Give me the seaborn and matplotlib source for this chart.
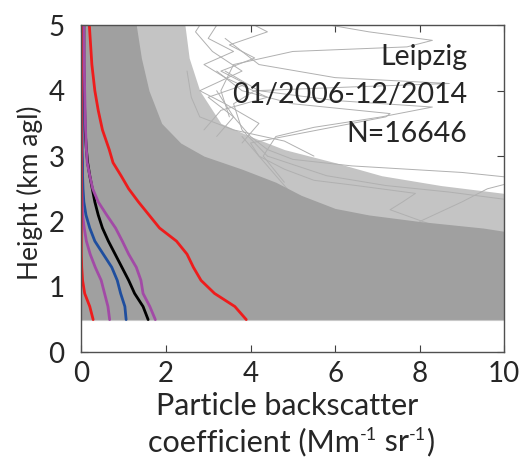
import numpy as np
import pandas as pd
import matplotlib
matplotlib.use("Agg")
import matplotlib.pyplot as plt
import seaborn as sns

# ---------------- data ----------------
heights = [0.5, 0.7, 0.9, 1.1, 1.3, 1.5, 1.7, 1.9, 2.1, 2.3, 2.5, 2.7, 2.9,
           3.1, 3.4, 3.7, 4.0, 4.4, 5.0]
p05 = [0.28, 0.20, 0.08, 0.03, 0.01, 0.00, 0.00, 0.00, 0.00, 0.00, 0.00, 0.00,
       0.00, 0.00, 0.00, 0.00, 0.00, 0.00, 0.00]
p25 = [0.67, 0.63, 0.55, 0.47, 0.33, 0.21, 0.12, 0.07, 0.03, 0.02, 0.01, 0.01,
       0.01, 0.01, 0.01, 0.01, 0.01, 0.01, 0.01]
p50 = [1.06, 1.03, 0.93, 0.85, 0.72, 0.52, 0.32, 0.20, 0.11, 0.06, 0.04, 0.03,
       0.03, 0.02, 0.02, 0.02, 0.02, 0.02, 0.02]
mean = [1.58, 1.46, 1.26, 1.12, 0.96, 0.80, 0.64, 0.50, 0.40, 0.32, 0.26, 0.20,
        0.15, 0.12, 0.09, 0.08, 0.07, 0.06, 0.06]
p75 = [1.75, 1.62, 1.46, 1.41, 1.30, 1.12, 0.97, 0.81, 0.60, 0.40, 0.27, 0.20,
       0.14, 0.12, 0.10, 0.09, 0.08, 0.07, 0.06]
p95 = [3.90, 3.63, 3.15, 2.83, 2.65, 2.50, 2.25, 1.85, 1.60, 1.35, 1.12, 0.94,
       0.75, 0.66, 0.50, 0.40, 0.32, 0.25, 0.19]

# envelope of the dense mass of individual profiles
core_h = [0.5, 1.85, 1.9, 2.0, 2.1, 2.2, 2.4, 2.6, 2.8, 3.0, 3.2, 3.5, 4.0, 4.5, 5.0]
core_x = [10.0, 10.0, 9.5, 8.0, 6.8, 6.0, 5.2, 4.6, 3.8, 2.9, 2.35, 1.9, 1.6, 1.42, 1.3]
fringe_h = [0.5, 2.43, 2.55, 2.7, 2.9, 3.1, 3.3, 3.5, 4.0, 4.5, 5.0]
fringe_x = [10.0, 10.0, 8.5, 7.1, 6.0, 4.8, 4.0, 3.3, 2.8, 2.55, 2.45]

# a few outlying individual profiles
o1_h = [2.0, 2.3, 2.5, 2.65, 2.75, 2.85, 2.95, 3.1, 3.3, 3.6, 4.0]
o1_x = [8.0, 9.0, 9.6, 10.5, 9.0, 6.4, 5.0, 4.4, 4.0, 3.6, 3.2]
o2_h = [2.4, 2.7, 3.0, 3.2, 3.4, 3.6, 3.65, 3.8, 4.0, 4.3]
o2_x = [5.0, 4.6, 4.2, 4.0, 5.6, 7.2, 7.3, 5.0, 3.8, 3.2]
o3_h = [2.6, 3.0, 3.3, 3.44, 3.6, 3.75, 3.85, 4.0, 4.3]
o3_x = [4.8, 4.3, 4.6, 5.5, 7.1, 8.3, 6.0, 4.2, 3.4]
o4_h = [3.0, 3.4, 3.8, 4.0, 4.06, 4.11, 4.2, 4.4, 4.8]
o4_x = [4.4, 3.8, 3.6, 4.1, 6.5, 8.7, 6.0, 4.2, 3.4]
o5_h = [3.6, 4.0, 4.4, 4.6, 4.67, 4.77, 4.9, 5.0, 5.1]
o5_x = [3.5, 3.3, 3.6, 5.0, 7.7, 8.3, 6.8, 5.9, 5.5]
o6_h = [1.9, 2.18, 2.3, 2.43, 2.55, 2.63, 2.8, 3.0, 3.3]
o6_x = [8.5, 7.3, 7.6, 7.9, 6.5, 5.5, 4.8, 4.2, 3.8]
o7_h = [2.1, 2.34, 2.45, 2.55, 2.7, 3.0]
o7_x = [10.5, 10.0, 8.7, 7.2, 5.8, 4.4]
o8_h = [3.0, 3.23, 3.4, 3.6, 3.9, 4.3]
o8_x = [5.5, 4.8, 3.6, 2.8, 2.6, 2.5]
o9_h = [3.3, 3.6, 3.9, 4.1, 4.3, 4.5, 4.7, 4.9, 5.1]
o9_x = [3.2, 3.6, 3.0, 3.9, 3.3, 4.1, 3.5, 4.4, 3.8]
o10_h = [3.4, 3.7, 3.9, 4.2, 4.4, 4.6, 4.8, 5.1]
o10_x = [2.9, 3.3, 4.4, 3.4, 2.9, 3.6, 3.0, 3.3]
o11_h = [3.2, 3.5, 3.8, 4.0, 4.3, 4.6, 4.9, 5.1]
o11_x = [3.8, 4.2, 3.4, 2.8, 3.8, 3.1, 2.7, 2.9]
outliers = [(o1_x, o1_h), (o2_x, o2_h), (o3_x, o3_h), (o4_x, o4_h),
            (o5_x, o5_h), (o6_x, o6_h), (o7_x, o7_h), (o8_x, o8_h),
            (o9_x, o9_h), (o10_x, o10_h), (o11_x, o11_h)]

x_ticks = [0, 2, 4, 6, 8, 10]
y_ticks = [0, 1, 2, 3, 4, 5]
station_lines = ["Leipzig", "01/2006-12/2014", "N=16646"]
xlabel_line1 = "Particle backscatter"
# second label line as (text, is_superscript) pieces
xlabel_line2 = [("coefficient (Mm", False), ("-1", True), (" sr", False),
                ("-1", True), (")", False)]

# ---------------- styling ----------------
sns.set_style("ticks")
plt.rcParams["font.family"] = ["Lato", "DejaVu Sans"]

W, H = 522, 459
fig = plt.figure(figsize=(W / 100, H / 100), dpi=100)
ax = fig.add_axes([81.3 / W, 1 - 352.3 / H, (504.3 - 81.3) / W, (352.3 - 25.3) / H])

grey = "#a0a0a0"
ax.fill_betweenx(fringe_h, 0, fringe_x, color="#c4c4c4", lw=0, zorder=1)
for px, ph in outliers:
    sns.lineplot(x=px, y=ph, orient="y", sort=False, estimator=None,
                 color="#b0b0b0", lw=0.7, ax=ax, zorder=1.5)
ax.fill_betweenx(core_h, 0, core_x, color=grey, lw=0, zorder=2)
ax.axhline(0.5, color="#c8c8c8", lw=0.8, zorder=2.1)

stats = [(mean, "black"), (p50, "#1f4e9e"), (p25, "#a24aa6"), (p75, "#a24aa6"),
         (p05, "#ee1c1c"), (p95, "#ee1c1c")]
for vals, col in stats:
    df = pd.DataFrame({"beta": vals, "h": heights})
    sns.lineplot(data=df, x="beta", y="h", orient="y", sort=False, estimator=None,
                 color=col, lw=2.0, ax=ax, zorder=3)

ax.set_xlim(0, 10)
ax.set_ylim(0, 5)
ax.set_xticks(x_ticks)
ax.set_yticks(y_ticks)
ax.tick_params(direction="in", length=5, width=0.8, top=True, right=True,
               labelsize=20, color="#404040")
ax.tick_params(axis="y", pad=12)
ax.tick_params(axis="x", pad=6)
for s in ax.spines.values():
    s.set_color("#505050")
    s.set_linewidth(1.0)
    s.set_zorder(5)
ax.set_xlabel("")
ax.set_ylabel("")

fig.text(287 / W, 1 - 415 / H, xlabel_line1, ha="center",
         va="baseline", fontsize=22)

# second x-label line with small raised "-1" superscripts
renderer = fig.canvas.get_renderer()
texts = []
for piece, sup in xlabel_line2:
    t = fig.text(0, 0, piece, fontsize=13 if sup else 22, ha="left",
                 va="baseline")
    texts.append((t, sup))
widths = [t.get_window_extent(renderer).width for t, _ in texts]
total = sum(widths)
x0 = 291 - total / 2
base = 451
for (t, sup), w in zip(texts, widths):
    yb = base - (11 if sup else 0)
    t.set_position((x0 / W, 1 - yb / H))
    x0 += w

fig.text(30 / W, 1 - 193 / H, "Height (km agl)", ha="center", va="center",
         rotation=90, fontsize=19)

for txt, yb in zip(station_lines, [4.393, 3.81, 3.22]):
    ax.text(9.12, yb, txt, ha="right", va="baseline", fontsize=20.5, zorder=6)

fig.savefig("out.png", dpi=100)
